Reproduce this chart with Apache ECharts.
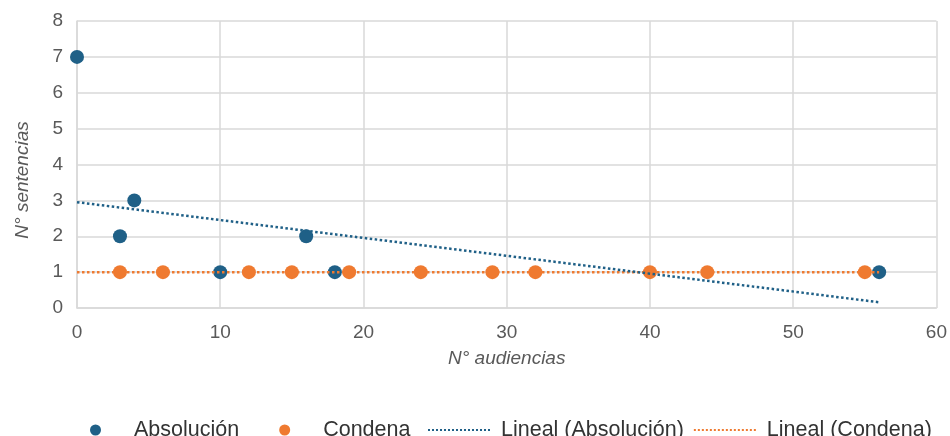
<!DOCTYPE html>
<html>
<head>
<meta charset="utf-8">
<style>
  html, body { margin: 0; padding: 0; background: #ffffff; }
  #chart { width: 950px; height: 436px; }
</style>
<script src="https://cdn.jsdelivr.net/npm/echarts@6/dist/echarts.min.js"></script>
</head>
<body>
<div id="chart"></div>
<script>
// Number of hearings (x) vs number of sentences (y)
const absolucionX = [0, 3, 4, 10, 16, 18, 56];
const absolucionY = [7, 2, 3, 1, 2, 1, 1];

const condenaX = [3, 6, 12, 15, 19, 24, 29, 32, 40, 44, 55];
const condenaY = [1, 1, 1, 1, 1, 1, 1, 1, 1, 1, 1];

// Linear trend lines (start / end)
const trendAbsX = [0, 56];
const trendAbsY = [2.95, 0.16];
const trendConX = [0, 56];
const trendConY = [1, 1];

const xTicks = [0, 10, 20, 30, 40, 50, 60];
const yTicks = [0, 1, 2, 3, 4, 5, 6, 7, 8];

const seriesNames = ['Absolución', 'Condena', 'Lineal (Absolución)', 'Lineal (Condena)'];

const BLUE = '#1f6087';
const ORANGE = '#ef7a30';
const GRID = '#d9d9d9';
const TEXT = '#595959';
const FONT = '"Liberation Sans", Arial, sans-serif';

const pairs = (xs, ys) => xs.map((x, i) => [x, ys[i]]);

const chart = echarts.init(document.getElementById('chart'));

chart.setOption({
  animation: false,
  backgroundColor: '#ffffff',
  grid: { left: 77, right: 13, top: 21, bottom: 128, containLabel: false },
  xAxis: {
    type: 'value',
    min: xTicks[0],
    max: xTicks[xTicks.length - 1],
    interval: xTicks[1] - xTicks[0],
    name: 'N° audiencias',
    nameLocation: 'middle',
    nameGap: 41,
    nameTextStyle: { color: TEXT, fontSize: 19, fontStyle: 'italic', fontFamily: FONT },
    axisLine: { show: true, lineStyle: { color: GRID, width: 1.5 } },
    axisTick: { show: false },
    axisLabel: { color: TEXT, fontSize: 19, fontFamily: FONT, margin: 15 },
    splitLine: { show: true, lineStyle: { color: GRID, width: 1.5 } }
  },
  yAxis: {
    type: 'value',
    min: yTicks[0],
    max: yTicks[yTicks.length - 1],
    interval: yTicks[1] - yTicks[0],
    axisLine: { show: true, lineStyle: { color: GRID, width: 1.5 } },
    axisTick: { show: false },
    axisLabel: { color: TEXT, fontSize: 19, fontFamily: FONT, margin: 14 },
    splitLine: { show: true, lineStyle: { color: GRID, width: 1.5 } }
  },
  graphic: [{
    type: 'text',
    x: 23,
    y: 180,
    rotation: Math.PI / 2,
    style: {
      text: 'N° sentencias',
      fill: TEXT,
      font: 'italic 19px ' + FONT,
      textAlign: 'center',
      textVerticalAlign: 'middle'
    }
  }],
  legend: [{
    data: [seriesNames[0], seriesNames[1]],
    left: 85,
    top: 414,
    icon: 'circle',
    itemWidth: 11,
    itemHeight: 11,
    itemGap: 40,
    textStyle: { color: '#333333', fontSize: 21.5, fontFamily: FONT, padding: [0, 0, 0, 28] }
  }, {
    data: [
      { name: seriesNames[2], itemStyle: { opacity: 0 } },
      { name: seriesNames[3], itemStyle: { opacity: 0 } }
    ],
    left: 422,
    top: 414,
    itemWidth: 64,
    itemHeight: 11,
    itemGap: 9,
    textStyle: { color: '#333333', fontSize: 21.5, fontFamily: FONT, padding: [0, 0, 0, 4] }
  }],
  series: [{
    name: seriesNames[0],
    type: 'scatter',
    data: pairs(absolucionX, absolucionY),
    symbolSize: 14,
    itemStyle: { color: BLUE, opacity: 1 },
    z: 2
  }, {
    name: seriesNames[1],
    type: 'scatter',
    data: pairs(condenaX, condenaY),
    symbolSize: 14,
    itemStyle: { color: ORANGE, opacity: 1 },
    z: 3
  }, {
    name: seriesNames[2],
    type: 'line',
    data: pairs(trendAbsX, trendAbsY),
    symbol: 'none',
    color: BLUE,
    lineStyle: { color: BLUE, width: 2.5, type: 'dotted' },
    z: 5
  }, {
    name: seriesNames[3],
    type: 'line',
    data: pairs(trendConX, trendConY),
    symbol: 'none',
    color: ORANGE,
    lineStyle: { color: ORANGE, width: 2.5, type: 'dotted' },
    z: 4
  }]
});
</script>
</body>
</html>
